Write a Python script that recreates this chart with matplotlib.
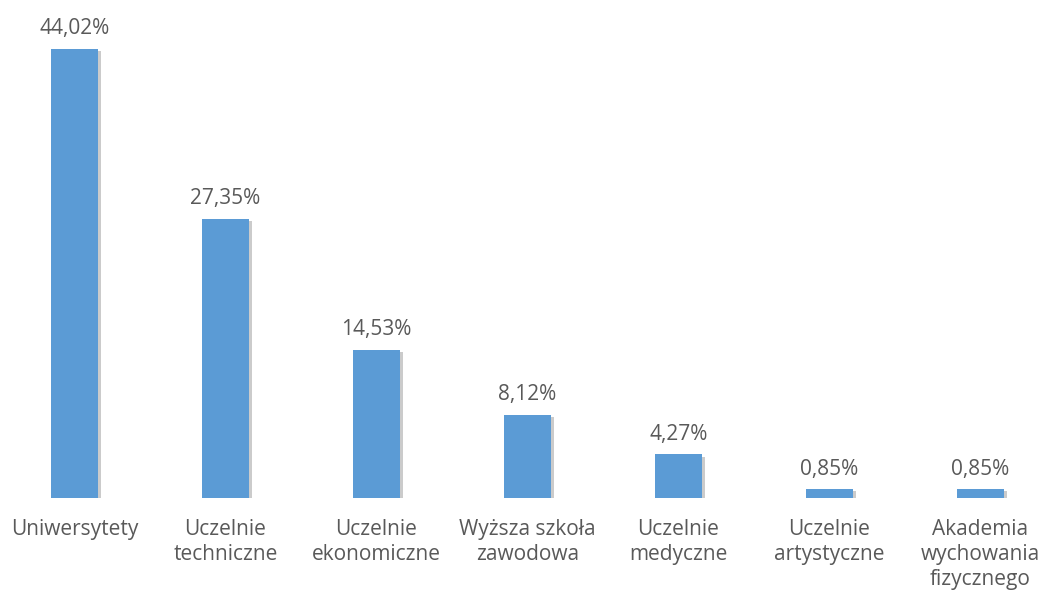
import matplotlib
matplotlib.use("Agg")
import matplotlib.pyplot as plt
import matplotlib.patheffects as pe

# data
categories = ["Uniwersytety", "Uczelnie\ntechniczne", "Uczelnie\nekonomiczne",
              "Wyższa szkoła\nzawodowa", "Uczelnie\nmedyczne", "Uczelnie\nartystyczne",
              "Akademia\nwychowania\nfizycznego"]
values = [44.02, 27.35, 14.53, 8.12, 4.27, 0.85, 0.85]
value_labels = ["44,02%", "27,35%", "14,53%", "8,12%", "4,27%", "0,85%", "0,85%"]

plt.rcParams['font.family'] = ['Open Sans', 'DejaVu Sans']

fig = plt.figure(figsize=(10.43, 5.9), dpi=100)
ax = fig.add_axes([0, 92 / 590, 1, 498 / 590])

x = list(range(len(values)))
bars = ax.bar(x, values, width=0.31, color="#5B9BD5")
for b in bars:
    b.set_path_effects([pe.SimplePatchShadow(offset=(2.5, -1.5), shadow_rgbFace="#8c8c8c", alpha=0.45),
                        pe.Normal()])

for xi, v, lab in zip(x, values, value_labels):
    ax.annotate(lab, (xi, v), xytext=(0, 7), textcoords="offset points",
                ha="center", va="bottom", fontsize=15, color="#595959")

for xi, cat in zip(x, categories):
    ax.annotate(cat, (xi, 0), xytext=(0, -15), textcoords="offset points",
                ha="center", va="top", fontsize=15, color="#595959", linespacing=1.25)

ax.set_xlim(-0.493, 6.414)
ax.set_ylim(0, 48.8)
ax.axis("off")

fig.savefig("out.png", dpi=100)
